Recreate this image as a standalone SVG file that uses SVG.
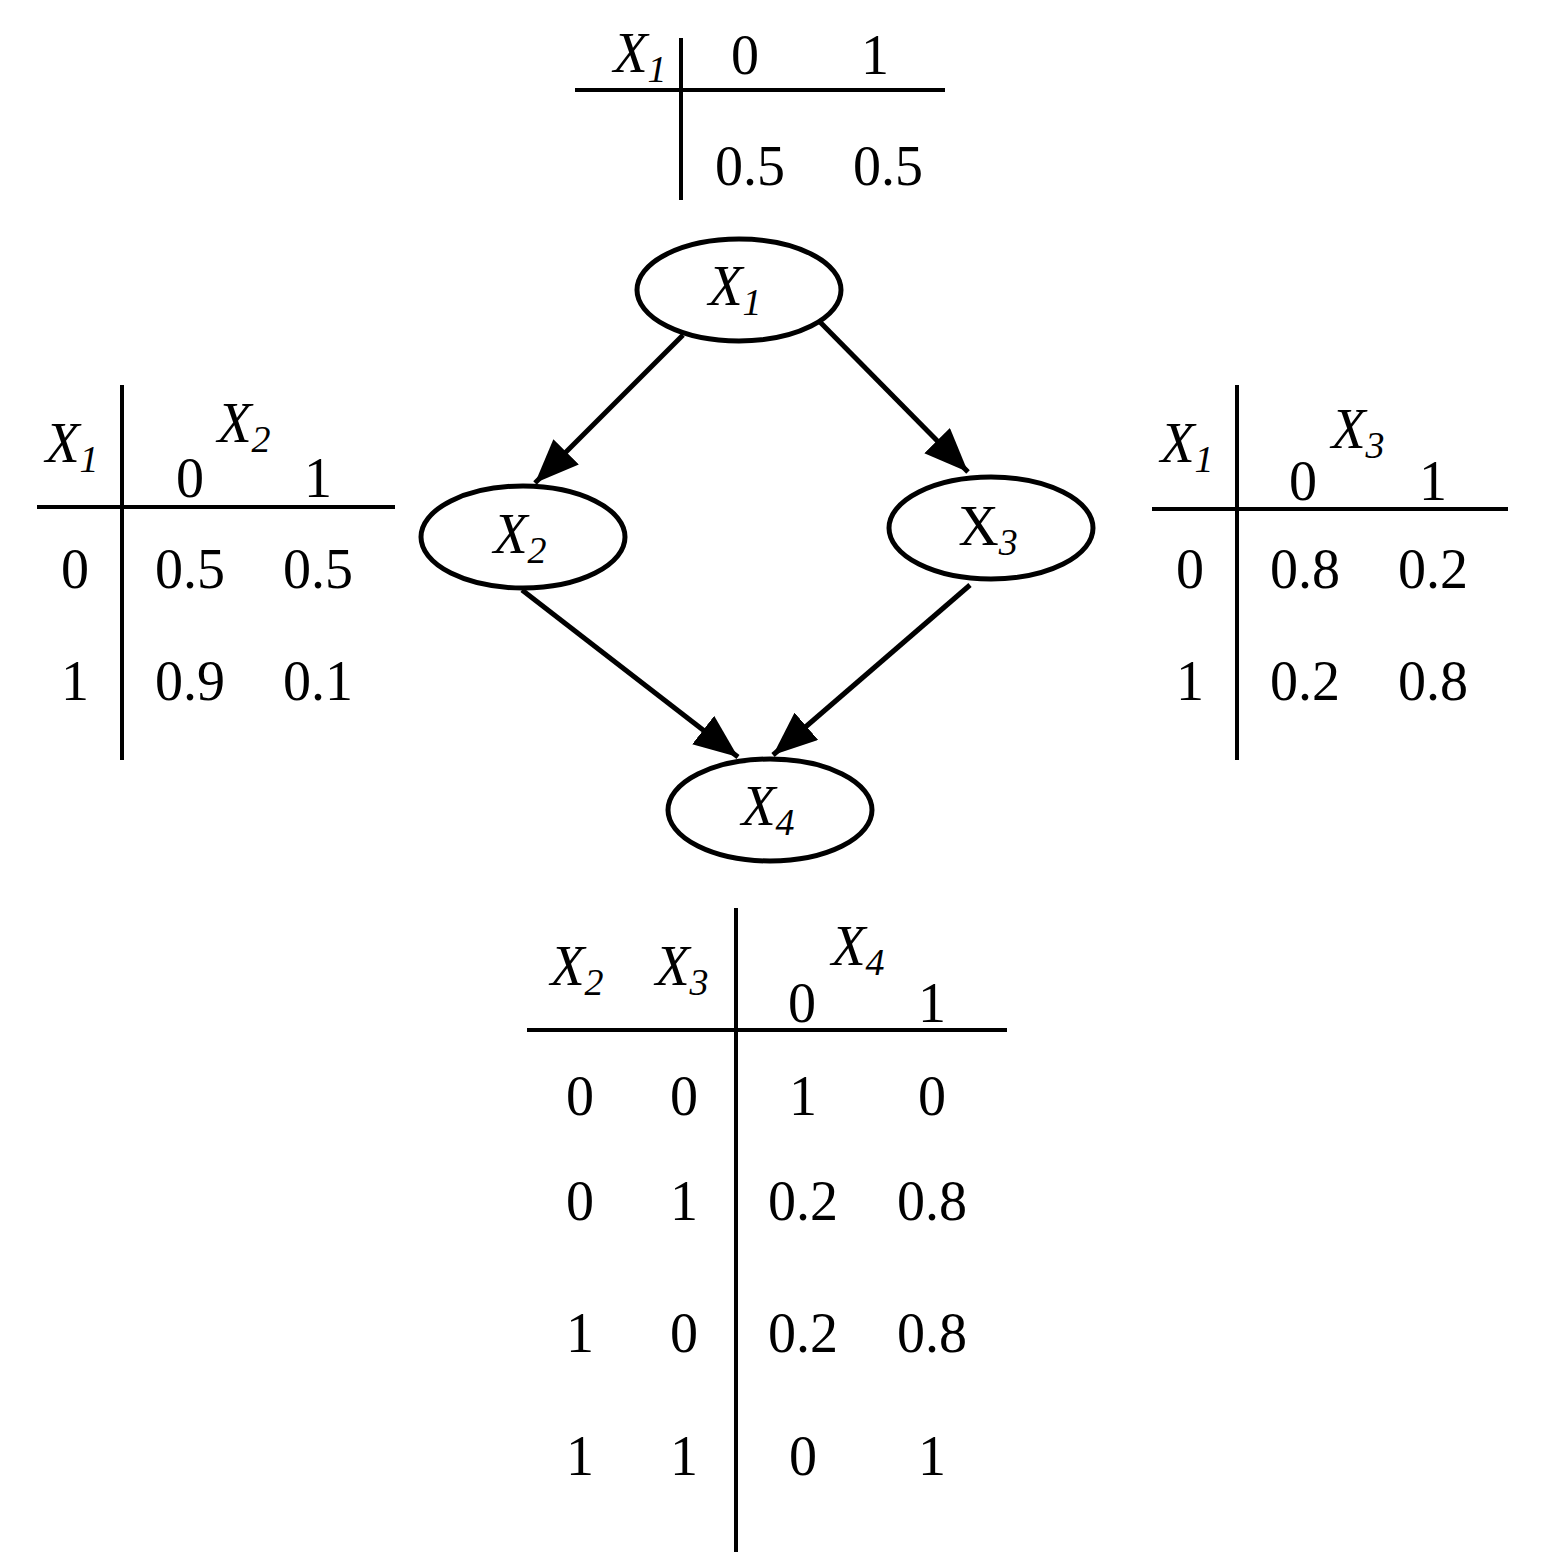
<svg xmlns="http://www.w3.org/2000/svg" width="1547" height="1563" viewBox="0 0 1547 1563">
<style>
text{font-family:"Liberation Serif","Times New Roman",serif;font-size:56px;fill:#000;text-anchor:middle}
.i{font-style:italic}
.s{font-size:38px}
.ln{stroke:#000;stroke-width:4;fill:none}
.nd{stroke:#000;stroke-width:5;fill:#fff}
.ed{stroke:#000;stroke-width:5;fill:none;marker-end:url(#ah)}
</style>
<defs>
<marker id="ah" markerWidth="12" markerHeight="10" refX="11" refY="5" orient="auto" markerUnits="userSpaceOnUse" viewBox="0 0 12 10">
<path d="M0,0 L12,5 L0,10 Z" fill="#000"/>
</marker>
<marker id="ah2" viewBox="0 0 10 10" refX="10" refY="5" markerWidth="44" markerHeight="36" orient="auto" markerUnits="userSpaceOnUse" preserveAspectRatio="none">
<path d="M0,0 L10,5 L0,10 Z" fill="#000"/>
</marker>
</defs>
<rect width="1547" height="1563" fill="#fff"/>
<g id="connectors">
<line class="ln" style="stroke-width:5;marker-end:url(#ah2)" x1="683" y1="335" x2="535" y2="483"/>
<line class="ln" style="stroke-width:5;marker-end:url(#ah2)" x1="820" y1="322" x2="968" y2="472"/>
<line class="ln" style="stroke-width:5;marker-end:url(#ah2)" x1="522" y1="590" x2="738" y2="757"/>
<line class="ln" style="stroke-width:5;marker-end:url(#ah2)" x1="970" y1="585" x2="773" y2="755"/>
</g>
<g id="n1"><ellipse class="nd" cx="739" cy="290" rx="102" ry="51"/><text class="i" x="735" y="305">X<tspan class="s" dy="10">1</tspan></text></g>
<g id="n2"><ellipse class="nd" cx="523" cy="537" rx="102" ry="51"/><text class="i" x="520" y="553">X<tspan class="s" dy="10">2</tspan></text></g>
<g id="n3"><ellipse class="nd" cx="991" cy="528" rx="102" ry="51"/><text x="988" y="545">X<tspan class="s i" dy="10">3</tspan></text></g>
<g id="n4"><ellipse class="nd" cx="770" cy="810" rx="102" ry="51"/><text class="i" x="768" y="825">X<tspan class="s" dy="10">4</tspan></text></g>
<g id="t1">
<line class="ln" x1="681" y1="38" x2="681" y2="200"/><line class="ln" x1="575" y1="90" x2="945" y2="90"/>
<text class="i" x="640" y="72">X<tspan class="s" dy="10">1</tspan></text>
<text x="745" y="74">0</text><text x="875" y="74">1</text>
<text x="750" y="185">0.5</text><text x="888" y="185">0.5</text>
</g>
<g id="t2">
<line class="ln" x1="122" y1="385" x2="122" y2="760"/><line class="ln" x1="37" y1="507" x2="395" y2="507"/>
<text class="i" x="72" y="462">X<tspan class="s" dy="10">1</tspan></text>
<text class="i" x="244" y="442">X<tspan class="s" dy="10">2</tspan></text>
<text x="190" y="497">0</text><text x="318" y="497">1</text>
<text x="75" y="588">0</text><text x="190" y="588">0.5</text><text x="318" y="588">0.5</text>
<text x="75" y="700">1</text><text x="190" y="700">0.9</text><text x="318" y="700">0.1</text>
</g>
<g id="t3">
<line class="ln" x1="1237" y1="385" x2="1237" y2="760"/><line class="ln" x1="1152" y1="509" x2="1508" y2="509"/>
<text class="i" x="1187" y="462">X<tspan class="s" dy="10">1</tspan></text>
<text class="i" x="1358" y="448">X<tspan class="s" dy="10">3</tspan></text>
<text x="1303" y="500">0</text><text x="1433" y="500">1</text>
<text x="1190" y="588">0</text><text x="1305" y="588">0.8</text><text x="1433" y="588">0.2</text>
<text x="1190" y="700">1</text><text x="1305" y="700">0.2</text><text x="1433" y="700">0.8</text>
</g>
<g id="t4">
<line class="ln" x1="736" y1="908" x2="736" y2="1552"/><line class="ln" x1="527" y1="1030" x2="1007" y2="1030"/>
<text class="i" x="577" y="985">X<tspan class="s" dy="10">2</tspan></text>
<text class="i" x="682" y="985">X<tspan class="s" dy="10">3</tspan></text>
<text class="i" x="858" y="965">X<tspan class="s" dy="10">4</tspan></text>
<text x="802" y="1022">0</text><text x="932" y="1022">1</text>
<text x="580" y="1115">0</text><text x="684" y="1115">0</text><text x="803" y="1115">1</text><text x="932" y="1115">0</text>
<text x="580" y="1220">0</text><text x="684" y="1220">1</text><text x="803" y="1220">0.2</text><text x="932" y="1220">0.8</text>
<text x="580" y="1352">1</text><text x="684" y="1352">0</text><text x="803" y="1352">0.2</text><text x="932" y="1352">0.8</text>
<text x="580" y="1475">1</text><text x="684" y="1475">1</text><text x="803" y="1475">0</text><text x="932" y="1475">1</text>
</g>
</svg>
